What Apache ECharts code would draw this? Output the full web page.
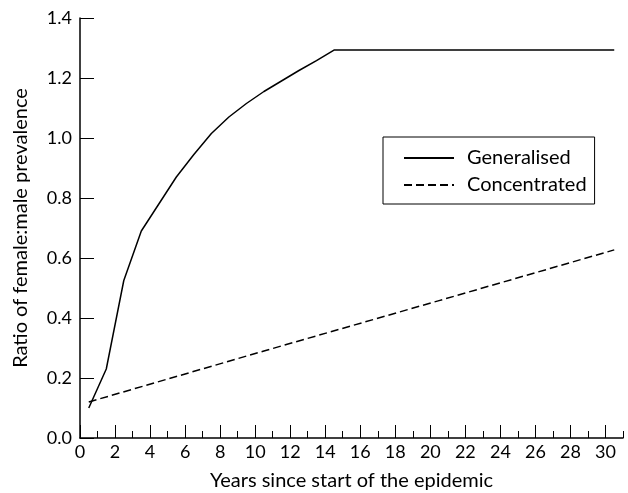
<!DOCTYPE html>
<html>
<head>
<meta charset="utf-8">
<script src="https://cdn.jsdelivr.net/npm/echarts@6/dist/echarts.min.js"></script>
<style>
html,body{margin:0;padding:0;background:#fff;}
#chart{width:628px;height:493px;}
</style>
</head>
<body>
<div id="chart"></div>
<script>
var genYears = [0.5, 1.5, 2.5, 3.5, 4.5, 5.5, 6.5, 7.5, 8.5, 9.5, 10.5, 11.5, 12.5, 13.5, 14.5, 30.5];
var genValues = [0.10, 0.23, 0.525, 0.69, 0.78, 0.87, 0.945, 1.015, 1.07, 1.115, 1.155, 1.19, 1.225, 1.258, 1.293, 1.293];
var conYears = [0.5, 10.5, 20.5, 30.5];
var conValues = [0.12, 0.29, 0.458, 0.627];
var xMajorTicks = [0, 2, 4, 6, 8, 10, 12, 14, 16, 18, 20, 22, 24, 26, 28, 30];
var xMinorTicks = [1, 3, 5, 7, 9, 11, 13, 15, 17, 19, 21, 23, 25, 27, 29, 31];
var yTicks = [0, 0.2, 0.4, 0.6, 0.8, 1.0, 1.2, 1.4];

function pairs(xs, ys) { return xs.map(function (x, i) { return [x, ys[i]]; }); }

var FONT = 'Lato';
var chart = echarts.init(document.getElementById('chart'), null, {renderer: 'canvas'});
chart.setOption({
  animation: false,
  backgroundColor: '#fff',
  grid: {left: 80, right: 5, top: 18, bottom: 55, containLabel: false, outerBoundsMode: 'none'},
  legend: {
    left: 383, top: 137,
    orient: 'vertical', align: 'left',
    itemWidth: 50, itemHeight: 14, itemGap: 7,
    padding: [11, 8, 9, 20],
    borderColor: '#000', borderWidth: 1,
    itemStyle: {opacity: 0},
    textStyle: {fontFamily: FONT, fontSize: 20, lineHeight: 20, color: '#000', padding: [0, 0, 0, 8]},
    data: ['Generalised', 'Concentrated']
  },
  xAxis: [{
    type: 'value', min: 0, max: 31, position: 'bottom',
    name: 'Years since start of the epidemic', nameLocation: 'middle', nameGap: 33,
    nameTextStyle: {fontFamily: FONT, fontSize: 20, color: '#000'},
    axisLine: {show: true, onZero: false, lineStyle: {color: '#000', width: 1.5}},
    axisTick: {show: true, inside: true, length: 13, customValues: xMajorTicks, lineStyle: {color: '#000', width: 1}},
    axisLabel: {show: true, customValues: xMajorTicks, margin: 5, fontFamily: FONT, fontSize: 18, color: '#000'},
    splitLine: {show: false}
  }, {
    type: 'value', min: 0, max: 31, position: 'bottom', offset: 0,
    axisLine: {show: false},
    axisTick: {show: true, inside: true, length: 7, customValues: xMinorTicks, lineStyle: {color: '#000', width: 1}},
    axisLabel: {show: false},
    splitLine: {show: false}
  }],
  yAxis: {
    type: 'value', min: 0, max: 1.4, interval: 0.2,
    name: 'Ratio of female:male prevalence', nameLocation: 'middle', nameGap: 49, nameRotate: 90,
    nameTextStyle: {fontFamily: FONT, fontSize: 20, color: '#000'},
    axisLine: {show: true, onZero: false, lineStyle: {color: '#000', width: 1.5}},
    axisTick: {show: true, inside: true, length: 14, customValues: yTicks, lineStyle: {color: '#000', width: 1}},
    axisLabel: {customValues: yTicks, margin: 8, fontFamily: FONT, fontSize: 18, color: '#000',
      formatter: function (v) { return v.toFixed(1); }},
    splitLine: {show: false}
  },
  series: [{
    name: 'Generalised', type: 'line', xAxisIndex: 0,
    data: pairs(genYears, genValues),
    showSymbol: false, symbol: 'none', smooth: false,
    lineStyle: {color: '#000', width: 1.5, type: 'solid'},
    itemStyle: {color: '#000'}
  }, {
    name: 'Concentrated', type: 'line', xAxisIndex: 0,
    data: pairs(conYears, conValues),
    showSymbol: false, symbol: 'none',
    lineStyle: {color: '#000', width: 1.5, type: [8, 4]},
    itemStyle: {color: '#000'}
  }]
});
</script>
</body>
</html>
